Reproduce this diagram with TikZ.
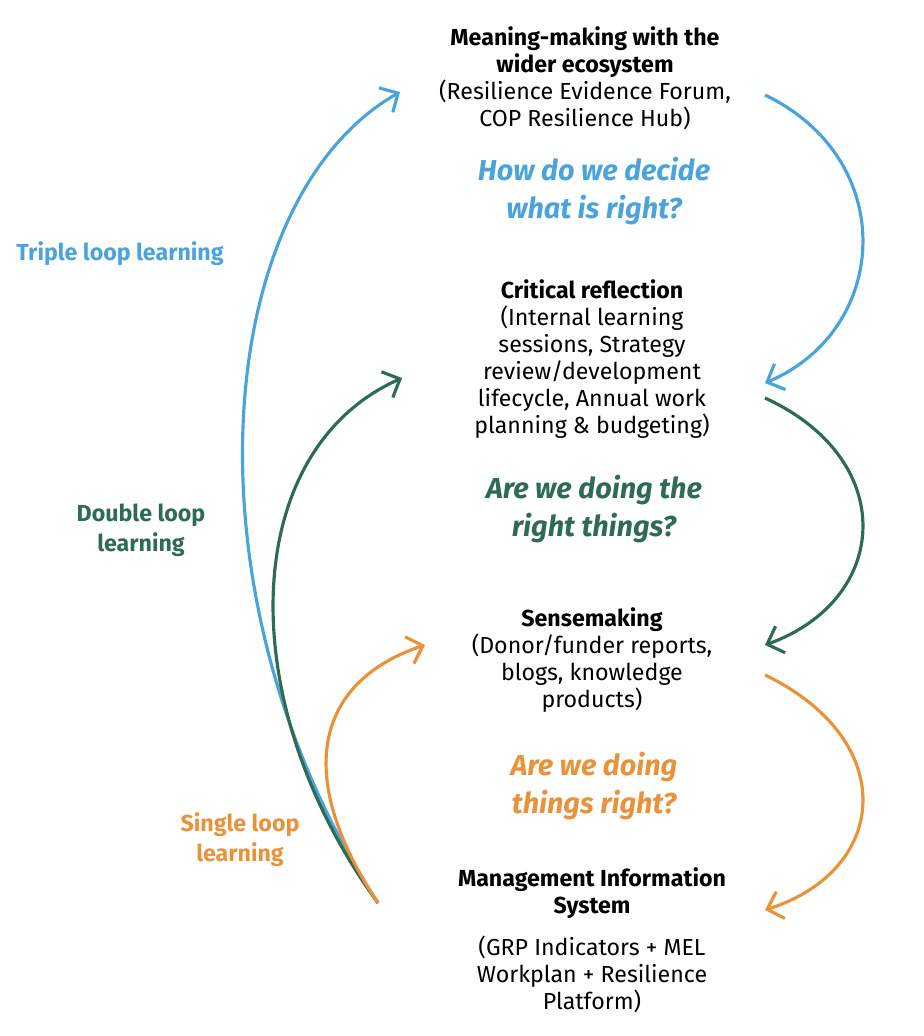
\documentclass[tikz,border=0pt]{standalone}
\usepackage{fontspec}
\setmainfont{Fira Sans}
\usetikzlibrary{arrows.meta}
\definecolor{tripleblue}{HTML}{4BA3DB}
\definecolor{doublegreen}{HTML}{2F6B53}
\definecolor{singleorange}{HTML}{E8923A}
\begin{document}
\begin{tikzpicture}
\tikzstyle{every node}+=[inner sep=0pt, align=center]
\tikzset{
  box/.style={font=\fontsize{6.6}{7.7}\selectfont},
  quest/.style={font=\fontsize{8.2}{11}\selectfont\bfseries\itshape},
  loopname/.style={font=\fontsize{6.6}{8.5}\selectfont\bfseries},
  flow/.style={line width=0.9pt, -{Straight Barb[length=4pt,width=8pt]}}
}
\useasboundingbox (0,0) rectangle (9.24,-10.36);
% boxes
\node[box] (meaning) at (5.85,-0.78) {\textbf{Meaning-making with the}\\\textbf{wider ecosystem}\\(Resilience Evidence Forum,\\COP Resilience Hub)};
\node[box] (critical) at (5.92,-3.59) {\textbf{Critical reflection}\\(Internal learning\\sessions, Strategy\\review/development\\lifecycle, Annual work\\planning \& budgeting)};
\node[box] (sense) at (5.92,-6.60) {\textbf{Sensemaking}\\(Donor/funder reports,\\blogs, knowledge\\products)};
\node[box] (mis) at (5.92,-9.40) {\textbf{Management Information}\\\textbf{System}\\[0.15cm](GRP Indicators + MEL\\Workplan + Resilience\\Platform)};
% questions
\node[quest, text=tripleblue] (q3) at (5.94,-1.91) {How do we decide\\what is right?};
\node[quest, text=doublegreen] (q2) at (5.94,-5.09) {Are we doing the\\right things?};
\node[quest, text=singleorange] (q1) at (5.94,-7.86) {Are we doing\\things right?};
% loop names
\node[loopname, text=tripleblue] (tl) at (1.20,-2.54) {Triple loop learning};
\node[loopname, text=doublegreen] (dl) at (1.41,-5.30) {Double loop\\learning};
\node[loopname, text=singleorange] (sl) at (2.40,-8.40) {Single loop\\learning};
% curve ends
\coordinate (base) at (3.78,-9.03);
\coordinate (tin) at (4.00,-0.92);
\coordinate (din) at (4.02,-3.78);
\coordinate (sin) at (4.25,-6.45);
\coordinate (tout) at (7.65,-0.95);
\coordinate (dtop) at (7.65,-3.83);
\coordinate (dout) at (7.65,-3.98);
\coordinate (stop) at (7.65,-6.45);
\coordinate (sout) at (7.65,-6.75);
\coordinate (mtop) at (7.65,-9.10);
% left loops
\draw[flow, tripleblue] (base) .. controls (1.8,-6.0) and (2.1,-2.0) .. (tin);
\draw[flow, doublegreen] (base) .. controls (2.3,-7.0) and (2.4,-4.5) .. (din);
\draw[flow, singleorange] (base) .. controls (2.9,-7.7) and (3.2,-6.8) .. (sin);
% right arcs
\draw[flow, tripleblue] (tout) .. controls (9.0,-1.6) and (8.9,-3.3) .. (dtop);
\draw[flow, doublegreen] (dout) .. controls (9.0,-4.6) and (8.9,-6.0) .. (stop);
\draw[flow, singleorange] (sout) .. controls (9.0,-7.4) and (8.9,-8.7) .. (mtop);
\end{tikzpicture}
\end{document}
